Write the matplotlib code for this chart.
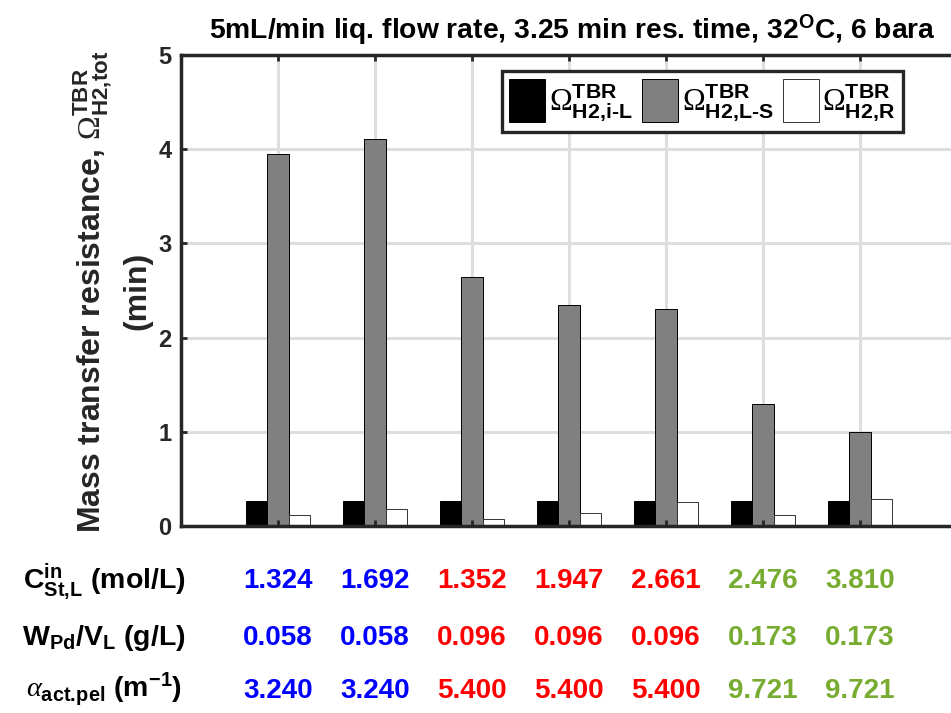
import matplotlib
matplotlib.use("Agg")
import matplotlib.pyplot as plt
import numpy as np

# ---- data ----
groups = [1, 2, 3, 4, 5, 6, 7]
omega_iL = [0.27, 0.27, 0.27, 0.27, 0.27, 0.27, 0.27]
omega_LS = [3.95, 4.11, 2.64, 2.35, 2.30, 1.30, 1.00]
omega_R = [0.12, 0.18, 0.07, 0.14, 0.25, 0.12, 0.29]

conc_in = ["1.324", "1.692", "1.352", "1.947", "2.661", "2.476", "3.810"]
pd_load = ["0.058", "0.058", "0.096", "0.096", "0.096", "0.173", "0.173"]
alpha_act = ["3.240", "3.240", "5.400", "5.400", "5.400", "9.721", "9.721"]
set_colors = ["#0000FF", "#0000FF", "#FF0000", "#FF0000", "#FF0000", "#77AC30", "#77AC30"]

series_labels = [r"$\mathrm{\Omega}^{TBR}_{H2{,}i‐L}$",
                 r"$\mathrm{\Omega}^{TBR}_{H2{,}L‐S}$",
                 r"$\mathrm{\Omega}^{TBR}_{H2{,}R}$"]
row_labels = [r"$C^{in}_{St{,}L}$ (mol/L)",
              r"$W_{Pd}$/$V_L$ (g/L)",
              r"$\mathit{\alpha}_{act.\!pel}$ (m$^{-1}$)"]

# ---- style ----
plt.rcParams["font.family"] = ["Liberation Sans", "DejaVu Sans"]
plt.rcParams["font.weight"] = "bold"
plt.rcParams["mathtext.fontset"] = "custom"
plt.rcParams["mathtext.default"] = "bf"
plt.rcParams["mathtext.bf"] = "Liberation Sans:bold"
plt.rcParams["mathtext.rm"] = "Liberation Serif:weight=normal"
plt.rcParams["mathtext.it"] = "Liberation Serif:style=italic:weight=normal"
plt.rcParams["mathtext.sf"] = "Liberation Sans:bold"

dark = "#262626"
W, H = 951, 713
fig = plt.figure(figsize=(W / 100, H / 100), dpi=100)
ax = fig.add_axes([181 / W, 1 - 526 / H, 776 / W, 471 / H])

x = np.array(groups, dtype=float)
bw = 0.222
ax.bar(x - bw, omega_iL, bw, color="black", edgecolor="black", linewidth=0.7, label=series_labels[0], zorder=2)
ax.bar(x, omega_LS, bw, color="#808080", edgecolor="black", linewidth=0.7, label=series_labels[1], zorder=2)
ax.bar(x + bw, omega_R, bw, color="white", edgecolor="#333333", linewidth=0.7, label=series_labels[2], zorder=2)

ax.set_xlim(0, 8)
ax.set_ylim(0, 5)
ax.set_xticks(groups)
ax.set_xticklabels([])
ax.set_yticks([0, 1, 2, 3, 4, 5])

# light grid behind the bars
grid_c = "#dedede"
for yv in [1, 2, 3, 4]:
    ax.axhline(yv, color=grid_c, lw=2.2, zorder=0)
for xv in groups:
    ax.axvline(xv, color=grid_c, lw=2.2, zorder=0)

ax.set_axisbelow(False)
for s in ax.spines.values():
    s.set_linewidth(2.5)
    s.set_color(dark)
    s.set_zorder(5)
ax.tick_params(axis="both", which="both", direction="in", length=4.5, width=2,
               color=dark, top=True, right=True, labelsize=17, pad=7, labelcolor=dark)
for lab in ax.get_yticklabels():
    lab.set_fontweight("bold")

# title and y label
fig.text(572 / W, 1 - 30 / H, r"5mL/min liq. flow rate, 3.25 min res. time, 32$^{O}$C, 6 bara",
         ha="center", va="center", fontsize=20.3, fontweight="bold", color="black")
fig.text(93 / W, 1 - 292 / H, r"Mass transfer resistance, $\mathrm{\Omega}^{TBR}_{H2{,}tot}$",
         rotation=90, ha="center", va="center", fontsize=23, fontweight="bold", color=dark)
fig.text(137 / W, 1 - 291 / H, "(min)",
         rotation=90, ha="center", va="center", fontsize=23, fontweight="bold", color=dark)

leg = fig.legend(loc="upper right", bbox_to_anchor=(903 / W, 1 - 71 / H),
                 bbox_transform=fig.transFigure, ncol=3, fontsize=22,
                 frameon=True, fancybox=False, framealpha=1, edgecolor=dark,
                 borderaxespad=0, borderpad=0.25, handlelength=1.18, handleheight=1.83,
                 handletextpad=0.12, columnspacing=0.3)
leg.get_frame().set_linewidth(2.4)

# condition table below the axes
trans = ax.get_xaxis_transform()
rows = [conc_in, pd_load, alpha_act]
row_base = [588, 645, 698]
for vals, yb in zip(rows, row_base):
    for xv, v, c in zip(groups, vals, set_colors):
        ax.text(xv, (526 - yb) / 471, v, transform=trans, ha="center", va="baseline",
                fontsize=20, fontweight="bold", color=c, clip_on=False)
label_base = [588, 645, 697]
for lab, yb in zip(row_labels, label_base):
    fig.text(104 / W, 1 - yb / H, lab, ha="center", va="baseline",
             fontsize=20.5, fontweight="bold", color="black")

fig.savefig("out.png", dpi=100)
